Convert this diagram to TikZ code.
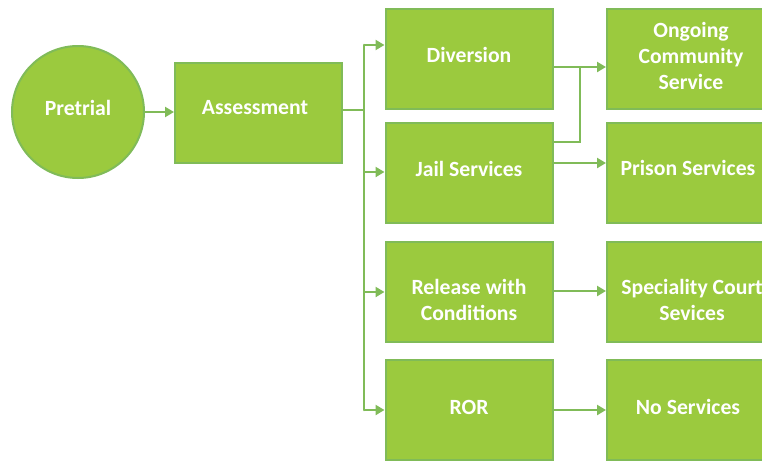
\documentclass[tikz,border=0pt]{standalone}
\usepackage{fontspec}
\setmainfont{Carlito}
\usetikzlibrary{arrows.meta}
\definecolor{boxfill}{RGB}{155,202,62}
\definecolor{boxline}{RGB}{128,187,88}
\tikzset{
  box/.style={draw=boxline, fill=boxfill, line width=2pt},
  lbl/.style={text=white, font=\bfseries\fontsize{21.7}{26}\selectfont, align=center, inner sep=0pt},
  conn/.style={draw=boxline, line width=2.6pt},
  arr/.style={conn, -{Triangle[length=9pt,width=10pt]}},
}
\begin{document}
\begin{tikzpicture}[x=1pt,y=-1pt]
\clip (0,0) rectangle (762,461);
\fill[white] (0,0) rectangle (762,461);
% shapes
\node[box, circle, minimum size=132pt, inner sep=0pt] (pre) at (78,112) {};
\node[box, minimum width=167pt, minimum height=100pt, inner sep=0pt] (ass) at (258.5,112.5) {};
\node[box, minimum width=167pt, minimum height=100pt, inner sep=0pt] (div) at (469,59) {};
\node[box, minimum width=167pt, minimum height=100pt, inner sep=0pt] (jail) at (469,173) {};
\node[box, minimum width=167pt, minimum height=100pt, inner sep=0pt] (rel) at (469,291.5) {};
\node[box, minimum width=167pt, minimum height=100pt, inner sep=0pt] (ror) at (469,410) {};
\node[box, minimum width=170pt, minimum height=100pt, inner sep=0pt] (ong) at (692,59) {};
\node[box, minimum width=170pt, minimum height=100pt, inner sep=0pt] (pri) at (692,173) {};
\node[box, minimum width=170pt, minimum height=100pt, inner sep=0pt] (spe) at (692,291.5) {};
\node[box, minimum width=170pt, minimum height=100pt, inner sep=0pt] (nos) at (692,410) {};
% texts
\node[lbl] (tpre) at (78,108) {Pretrial};
\node[lbl] (tass) at (255,108) {Assessment};
\node[lbl] (tdiv) at (469,55) {Diversion};
\node[lbl] (tjail) at (469,169) {Jail Services};
\node[lbl] (trel) at (469,300) {Release with\\Conditions};
\node[lbl] (tror) at (469,407) {ROR};
\node[lbl] (tong) at (691,56) {Ongoing\\Community\\Service};
\node[lbl] (tpri) at (688,168) {Prison Services};
\node[lbl] (tspe) at (692,300) {Speciality Court\\Sevices};
\node[lbl] (tnos) at (688,407) {No Services};
% bus coordinates
\coordinate (b0) at (364,110);
\coordinate (b1) at (364,45);
\coordinate (b2) at (364,172);
\coordinate (b3) at (364,292);
\coordinate (b4) at (364,410);
\coordinate (j0) at (580,67);
% connectors
\draw[arr] (pre.east |- 0,112) -- (ass.west |- 0,112);
\draw[conn] (ass.east |- b0) -- (b0);
\draw[conn, line cap=round] (b1) -- (b4);
\draw[arr] (b1) -- (div.west |- b1);
\draw[arr] (b2) -- (jail.west |- b2);
\draw[arr] (b3) -- (rel.west |- b3);
\draw[arr] (b4) -- (ror.west |- b4);
\draw[arr] (div.east |- j0) -- (ong.west |- j0);
\draw[conn] (jail.east |- 0,142) -- (580,142) -- (j0);
\draw[arr] (jail.east |- 0,163) -- (pri.west |- 0,163);
\draw[arr] (rel.east |- 0,291) -- (spe.west |- 0,291);
\draw[arr] (ror.east |- 0,410) -- (nos.west |- 0,410);
\end{tikzpicture}
\end{document}
